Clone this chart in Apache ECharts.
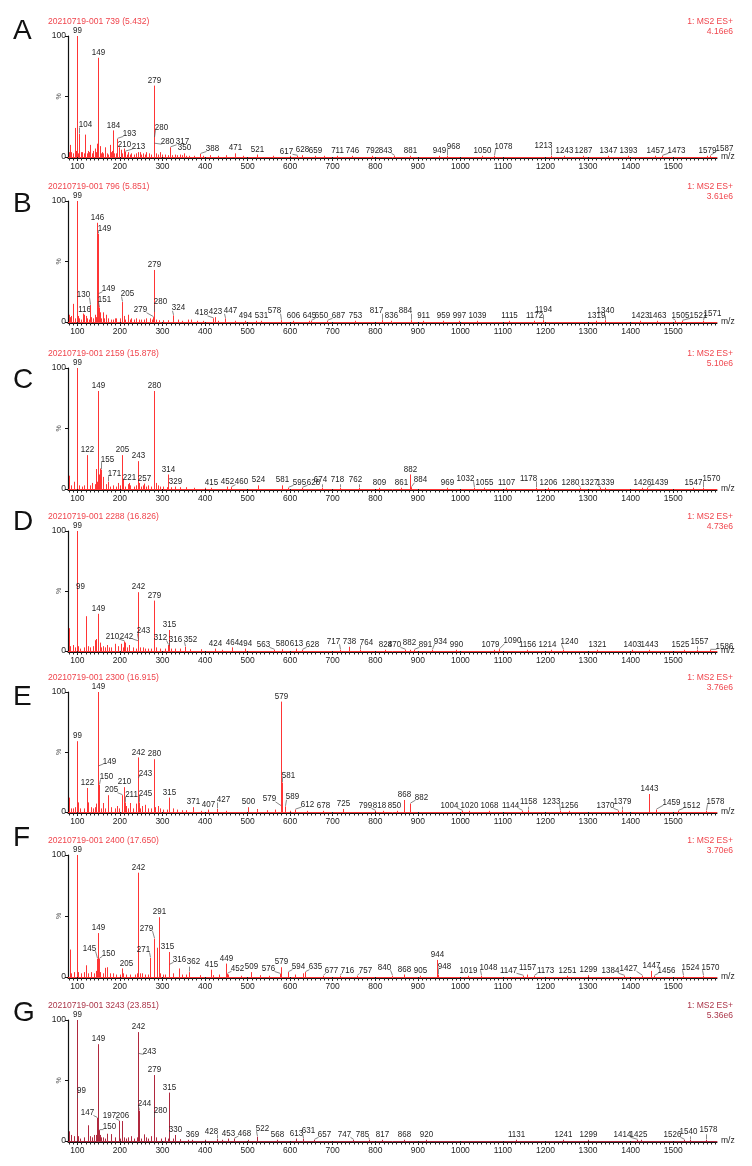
<!DOCTYPE html>
<html><head><meta charset="utf-8">
<script src="https://cdn.jsdelivr.net/npm/echarts@6/dist/echarts.min.js"></script>
<style>html,body{margin:0;padding:0;background:#fff}#c{width:752px;height:1166px}</style>
</head><body><div id="c"></div>
<script>
// ---------------- DATA ----------------
const LETTERS = ['A','B','C','D','E','F','G'];
const HEADERS = ['20210719-001 739 (5.432)','20210719-001 796 (5.851)','20210719-001 2159 (15.878)','20210719-001 2288 (16.826)','20210719-001 2300 (16.915)','20210719-001 2400 (17.650)','20210719-001 3243 (23.851)'];
const SCAN_TYPE = '1: MS2 ES+';
const BPI = ['4.16e6','3.61e6','5.10e6','4.73e6','3.76e6','3.70e6','5.36e6'];
const X_LABELS = [100,200,300,400,500,600,700,800,900,1000,1100,1200,1300,1400,1500];
const Y_LABELS = [0,50,100];

// Panel A
const A_peakMz  = [99,104,149,184,193,210,213,279,280,280.5,317,350,388,471,521,617,628,659,711,746,792,843,881,949,968,1050,1078,1213,1243,1287,1347,1393,1457,1473,1579,1587];
const A_peakPct = [100,19,82,22,15,5.5,4.5,59,16,11,8,3,2.5,3,2,1,1.5,1,1,1,1,1,1,1,1,1,1,1,1,1,1,1,1,1,1,1];
const A_peakLab = ['99','104','149','184','193','210','213','279','280','280','317','350','388','471','521','617','628','659','711','746','792','843','881','949','968','1050','1078','1213','1243','1287','1347','1393','1457','1473','1579','1587'];
const A_noiseMz  = [80,83,86,89,93.7,96,101,108,111.7,115,118.8,122,125,128,130.5,134,136.7,140.7,143,146,152.4,155,158.7,161,164,169.6,173,176,180,182,187,190,197.8,203.4,206,208.8,216,219,223,226.9,232,238.7,242,246.5,250,254,258,262,268,272,285.7,289,293.5,300,305,312,322,328.7,335,340.5,345,356,362,375,395,411,430,450,490,560,600,680];
const A_noisePct = [4,10,4,3,24,5,3,4,4,3,18.5,3,5,4,10,3,5,7,4,11,9,3,4,3,8,3,2,10,4,5,3,3,8,6,3,7,2,4,2,3,2,3,4,4,2,3,2,4,3,2,3,2,4,2,2,1.5,1.5,2,1.5,2,1.5,1,1,1,1,1.5,1,1.5,1,1,1,1];

// Panel B
const B_peakMz  = [99,116,130,146,149,149.5,151,205,278.6,279,280,324,418,423,447,494,531,578,606,645,650,687,753,817,836,884,911,959,997,1039,1115,1172,1194,1319,1340,1423,1463,1505,1521,1571];
const B_peakPct = [100,6,14,82,73,23,12,16.5,4,43,8,5.5,3,4,3,1,1,1.5,1,1,1,1,1,1.5,1,1.5,1,1,1,1,1,1,1.5,1,1.5,1,1,1,1,1];
const B_peakLab = ['99','116','130','146','149','149','151','205','279','279','280','324','418','423','447','494','531','578','606','645','650','687','753','817','836','884','911','959','997','1039','1115','1172','1194','1319','1340','1423','1463','1505','1521','1571'];
const B_noiseMz  = [80.3,83,86,89.7,94,101,104,108,113,119.5,123,127,133,136,140.7,143,152.4,156,160,163,166.5,172,178,183,187.7,191.7,199.4,208.8,213,219,224,227,232,238.7,245,250.4,256,262,270,275,285.7,292,301,312,336.5,345,360,368,380,395,430,470,520];
const B_noisePct = [6,4,5,15,3,5,3,2,7,5,3,2,4,3,6,4,8,3,8,3,6,3,2,2,3,3,3,5,2,6,2,3,2,3,2,2,2,3,3,2,2,1.5,1.5,1.5,2,1,2,2,1,1,1,1,1];

// Panel C
const C_peakMz  = [99,122,149,155,171,205,221,243,257,280,314,329,415,452,460,524,581,595,628,674,718,762,809,861,882,884,969,1032,1055,1107,1178,1206,1280,1327,1339,1426,1439,1547,1570];
const C_peakPct = [100,28,81,16,6,28,5,23,4.5,81,12,2,1,2,1.5,3,3,1,1,1,1,1,1,1,12,1.5,1,1,1,1,1,1,1,1,1,1,1,1,1];
const C_peakLab = ['99','122','149','155','171','205','221','243','257','280','314','329','415','452','460','524','581','595','628','674','718','762','809','861','882','884','969','1032','1055','1107','1178','1206','1280','1327','1339','1426','1439','1547','1570'];
const C_noiseMz  = [80.5,86,91.3,100,104,110,116,123,129,135,140.7,143,146,150,152.4,160,166.5,176,183.8,190,195.5,201,206.5,212,219,224.6,232,238,244,249,254,262,266,272,281,284,289.5,295,301,310,320,340,356,375,400];
const C_noisePct = [11,3,6,18,3,2,3,13,3,5,4,16.5,6,12,17,10,4,2,3,2,5,3,8,2,4,3,2,3,5,2,3,2,3,2,20,5,3,2,2,1.5,1.5,1.5,1.5,1,1];

// Panel D
const D_peakMz  = [99,99.6,149,210,241.5,242,243,279,312,315,316,352,424,464,494,563,580,613,628,717,738,764,824,870,882,891,934,990,1079,1090,1156,1214,1240,1321,1403,1443,1525,1557,1586];
const D_peakPct = [100,48,31,8,8,49,9,42,5,17.5,3.5,3.5,2,3,2,1,1.5,2,1,1,3.5,1,1,1,1,1,1,1,1,1.5,1,1,1,1,1,1,1,1,1];
const D_peakLab = ['99','99','149','210','242','242','243','279','312','315','316','352','424','464','494','563','580','613','628','717','738','764','824','870','882','891','934','990','1079','1090','1156','1214','1240','1321','1403','1443','1525','1557','1586'];
const D_noiseMz  = [80,83.5,89.7,94,101,106,116,121,125,130,137,140.7,144.7,152.4,156,160,164,169.6,175,180,187.7,195.5,203,207,211,216,221.7,230.6,238,246.5,254,260,266,272,281,285.7,293.5,305,320,328.7,340,365,390,440];
const D_noisePct = [19,4,5,3,4,2,3,29,4,3,4,9,10,7,3,4,3,5,3,3,6,4,6,3,7,3,5,3,2,3,3,2,2,2,8,3,2,2,2,2,2,1.5,1.5,1];

// Panel E
const E_peakMz  = [99,122,149,149.5,150,205,210,211,242,243,245,280,315,371,407,427,500,578.5,579,581,589,612,678,725,799,818,850,868,882,1004,1020,1068,1144,1158,1233,1256,1370,1379,1443,1459,1512,1578];
const E_peakPct = [59,20,100,38,22.6,14,20.7,8,45.5,28,8,44,12,4,2,2.5,4,4.7,92,24.6,4.7,2,1,2.5,1,1,1,10,7,1,1,1,1,1.5,1,1,1,1.5,15,2,1,1];
const E_peakLab = ['99','122','149','149','150','205','210','211','242','243','245','280','315','371','407','427','500','579','579','581','589','612','678','725','799','818','850','868','882','1004','1020','1068','1144','1158','1233','1256','1370','1379','1443','1459','1512','1578'];
const E_noiseMz  = [80,86,90,94,101,106,116,124,131,136,140.7,144.7,151,155,160,166,171.5,179,187.7,193,199,206,213.6,219,224.6,230.6,238.7,248,252,258,266,272,282,289.5,294.5,301,310,325,333,345,356,390,450,521,545,563.8,600,640];
const E_noisePct = [12,3,3,4,8,3,3,8,4,3,4,7,5,3,7.5,3,14,4,3,5,3,4,5,3,7.5,3,7,3,5,6,3,3,4,5,3,2,2,3,2,1.5,1.5,1,1,2.5,1.5,2,1,1];

// Panel F
const F_peakMz  = [99,145,149,150,205,242,271,279,291,315,316,362,415,449,452,509,576,579,594,635,677,716,757,840,868,905,944,948,1019,1048,1147,1157,1173,1251,1299,1384,1427,1447,1456,1524,1570];
const F_peakPct = [100,15,36,15,7,85.5,15.6,31.5,49,20.5,10,4,6,11,2.7,4,2.5,8,4,4,1,1,1,1,2,1,14,2,1,1,1,2,1,1,1.5,1,1,5,1,1,1];
const F_peakLab = ['99','145','149','150','205','242','271','279','291','315','316','362','415','449','452','509','576','579','594','635','677','716','757','840','868','905','944','948','1019','1048','1147','1157','1173','1251','1299','1384','1427','1447','1456','1524','1570'];
const F_noiseMz  = [82,86,91,101,108,116,120,125,133,139,143,151.5,154,160,166,170,176,183.8,191.7,201,207,215,223,234.7,239.5,246.5,252,260,266,281,288,293.5,301,307,325,337.7,345,356,387.5,418,433,454,485,528.8,550,610.9,630];
const F_noisePct = [22.5,3,4,4,3,4,9.6,3,4,3,5,8,4,3,7.5,8,3,3,2,2,3,2,2,2,3,3,3,2,2,15,24,3,2,2,3,7,2,2,1.5,1.5,2,2,1,1.5,1,2,3];

// Panel G
const G_peakMz  = [99,99.6,147,149,150,197,206,242,243,244,279,280,315,330,369,428,453,468,522,568,613,631,657,747,785,817,868,920,1131,1241,1299,1414,1425,1526,1540,1578];
const G_peakPct = [100,35,19,80,9,16.5,16.5,90,72,25,54.5,19,40,5,1,1.6,2,2,3.5,1,2,2,1,1,1,1,1,1,1,1,1,1,1,1,1,1];
const G_peakLab = ['99','99','147','149','150','197','206','242','243','244','279','280','315','330','369','428','453','468','522','568','613','631','657','747','785','817','868','920','1131','1241','1299','1414','1425','1526','1540','1578'];
const G_noiseMz  = [80.3,86,91,101,106,116,124,129,134,138,144,152.4,156,160,165,170,180,189,201,209,214,219,227,232,239,250,256,262,267,273,285.7,297,305,313,325,340,360,400,440,500];
const G_noisePct = [8,5,4,4,2,3,13,4,3,5,5,5,3,3,2,6,5.7,3,2,3,2,3,4,2,3,2,5.5,3,2,4,3,2,3,2,2,1.5,1,1,1,1];

// ---------------- LAYOUT / STYLE ----------------
const GRID_TOP = [36,201,368,531,692,855,1020];
const GRID_BASE = [157,322,489,651,812,977,1141];
const LETTER_Y = [31,204,380,522,697,838,1013];
const X_MIN = 78, X_MAX = 1603;
const FONT = '"Liberation Sans", Arial, sans-serif';
const TEXT_COLOR = '#1e1e1e';
const BAR_COLOR = ['#ff3535','#ff3535','#ff3535','#ff3535','#ff3535','#ff3535','#b0283e'];
const HEAD_COLOR = ['#f0454d','#f0454d','#f0454d','#f0454d','#f0454d','#f0454d','#ab3549'];
// label nudges in pixels [dx, dy], keyed by m/z
const NUDGE = {
  A:{104:[6,-4],193:[12,0],213:[13,0],280:[7,-5],280.5:[13,3],317:[12,0],388:[12,0],617:[-11,1],843:[-9,0],968:[6,-4],1078:[9,-4],1213:[-8,-5],1473:[14,0],1587:[14,-2]},
  B:{149:[6,0],130:[-7,-5],149.5:[10,0],151:[5,-3],205:[5,-3],278.6:[-13,-2],280:[6,-5],324:[5,-2],418:[-12,0],447:[5,-2],578:[-7,-4],650:[10,0],687:[11,0],817:[-6,-4],884:[-6,-4],1194:[0,-5],1340:[0,-4],1505:[5,0],1521:[16,0],1571:[9,-2]},
  C:{155:[6,-5],171:[6,-3],460:[10,0],595:[11,0],628:[11,0],674:[-2,-3],718:[-3,-3],762:[-4,-3],884:[9,-2],1032:[-9,-4],1178:[-8,-4],1280:[-10,0],1327:[-11,0],1439:[12,0],1570:[8,-4]},
  D:{99.6:[3,-2],210:[-12,0],241.5:[-12,0],243:[5,-4],312:[-8,-2],316:[6,-2],352:[5,-2],563:[-11,0],628:[10,0],717:[-7,-3],764:[6,-2],870:[-11,0],882:[-1,-2],891:[11,0],934:[8,-3],1079:[-4,0],1090:[13,-3],1214:[-4,0],1240:[6,-3],1525:[-4,0],1557:[2,-3],1586:[14,2]},
  E:{149.5:[11,0],150:[7,-3],205:[-11,0],211:[6,-3],243:[7,0],245:[6,-4],427:[6,-4],578.5:[-12,-2],581:[6,-2],589:[7,-4],612:[12,0],799:[-10,0],818:[-4,0],850:[-3,0],882:[11,-1],1004:[-13,0],1144:[-12,0],1158:[0,-3],1233:[-9,-4],1370:[-13,0],1379:[0,-3],1459:[15,-2],1512:[13,0],1578:[9,-4]},
  F:{145:[-8,-5],150:[9,0],205:[4,0],271:[-7,-3],279:[-8,-5],315:[-2,0],316:[10,0],362:[4,-5],452:[10,0],576:[-12,0],594:[10,0],635:[10,0],677:[8,0],716:[7,0],757:[8,0],840:[-8,-3],948:[6,-3],1048:[7,-3],1147:[-15,0],1157:[0,-2],1173:[11,0],1384:[-14,0],1427:[-14,-2],1456:[12,0],1524:[7,-3],1570:[7,-3]},
  G:{99.6:[4,-3],147:[-10,0],150:[10,2],197:[-10,0],243:[11,3],244:[5,-2],280:[6,-2],428:[-6,-2],468:[10,0],522:[5,-3],631:[5,-3],657:[10,0],747:[-9,0],785:[-7,0],1414:[-15,0],1425:[-3,0],1526:[-12,0],1540:[-2,-3],1578:[2,-5]}
};

const PANEL_DATA = {
  A:{pm:A_peakMz,pp:A_peakPct,pl:A_peakLab,nm:A_noiseMz,np:A_noisePct},
  B:{pm:B_peakMz,pp:B_peakPct,pl:B_peakLab,nm:B_noiseMz,np:B_noisePct},
  C:{pm:C_peakMz,pp:C_peakPct,pl:C_peakLab,nm:C_noiseMz,np:C_noisePct},
  D:{pm:D_peakMz,pp:D_peakPct,pl:D_peakLab,nm:D_noiseMz,np:D_noisePct},
  E:{pm:E_peakMz,pp:E_peakPct,pl:E_peakLab,nm:E_noiseMz,np:E_noisePct},
  F:{pm:F_peakMz,pp:F_peakPct,pl:F_peakLab,nm:F_noiseMz,np:F_noisePct},
  G:{pm:G_peakMz,pp:G_peakPct,pl:G_peakLab,nm:G_noiseMz,np:G_noisePct}
};

const MINOR_TICKS = [];
for (let v = 80; v <= 1600; v += 10) MINOR_TICKS.push(v);

function makeRender(key, labels, color) {
  const nud = NUDGE[key] || {};
  return function (params, api) {
    const mz = api.value(0), v = api.value(1);
    const p0 = api.coord([mz, 0]), p1 = api.coord([mz, v]);
    const x = Math.round(p0[0]) + 0.5;
    const children = [{type:'line', shape:{x1:x, y1:p0[1], x2:x, y2:p1[1]}, style:{stroke:color, lineWidth:1}}];
    if (labels) {
      const lab = labels[params.dataIndex];
      const nd = nud[String(mz)] || [0, 0];
      const tx = x + nd[0], ty = p1[1] - 0.5 + nd[1];
      children.push({type:'text', x:tx, y:ty, scaleX:0.84, style:{text:lab, font:'9.5px ' + FONT, fill:TEXT_COLOR, align:'center', verticalAlign:'bottom'}});
      if (Math.abs(nd[0]) >= 5 || nd[1] <= -3) {
        const hw = lab.length * 2.0;
        let ex, ey = ty - 2;
        if (nd[0] >= 5) ex = tx - hw; else if (nd[0] <= -5) ex = tx + hw; else { ex = x; ey = ty; }
        children.push({type:'line', shape:{x1:x, y1:p1[1] - 0.5, x2:ex, y2:ey}, style:{stroke:'#555', lineWidth:0.7}});
      }
    }
    return {type:'group', children};
  };
}

const grids = [], xAxes = [], yAxes = [], series = [], graphics = [];
LETTERS.forEach((key, i) => {
  const d = PANEL_DATA[key];
  const top = GRID_TOP[i], h = GRID_BASE[i] - GRID_TOP[i];
  grids.push({left:68, top:top, width:649, height:h, containLabel:false, outerBoundsMode:'none'});
  xAxes.push({
    gridIndex:i, type:'value', min:X_MIN, max:X_MAX, position:'bottom',
    axisLine:{show:true, lineStyle:{color:BAR_COLOR[i], width:1}},
    axisTick:{show:true, customValues:X_LABELS, length:4, lineStyle:{color:'#222'}},
    axisLabel:{show:true, customValues:X_LABELS, fontFamily:FONT, fontSize:8.5, color:TEXT_COLOR, margin:5,
      formatter:(v) => String(v)},
    splitLine:{show:false},
    name:'m/z', nameLocation:'end', nameGap:4,
    nameTextStyle:{fontFamily:FONT, fontSize:8.5, color:TEXT_COLOR, verticalAlign:'middle', align:'left'}
  });
  xAxes.push({
    gridIndex:i, type:'value', min:X_MIN, max:X_MAX, position:'bottom', offset:1,
    axisLine:{show:true, lineStyle:{color:'#111', width:1}},
    axisTick:{show:true, customValues:MINOR_TICKS, length:2.5, lineStyle:{color:'#222'}},
    axisLabel:{show:false}, splitLine:{show:false}
  });
  yAxes.push({
    gridIndex:i, type:'value', min:Y_LABELS[0], max:Y_LABELS[2], interval:50,
    axisLine:{show:true, lineStyle:{color:'#111', width:1.2}},
    axisTick:{show:true, length:3, lineStyle:{color:'#111'}},
    axisLabel:{show:true, fontFamily:FONT, fontSize:8.5, color:TEXT_COLOR, margin:2,
      formatter:(v) => (v === 50 ? '' : String(v))},
    splitLine:{show:false},
    name:'%', nameLocation:'middle', nameGap:5, nameRotate:90, nameMoveOverlap:false,
    nameTextStyle:{fontFamily:FONT, fontSize:7, color:'#555'}
  });
  series.push({
    type:'custom', xAxisIndex:2 * i, yAxisIndex:i, silent:true, clip:false,
    encode:{x:0, y:1},
    data:d.nm.map((m, j) => [m, d.np[j]]),
    renderItem:makeRender(key, null, BAR_COLOR[i]), z:2
  });
  series.push({
    type:'custom', xAxisIndex:2 * i, yAxisIndex:i, silent:true, clip:false,
    encode:{x:0, y:1},
    data:d.pm.map((m, j) => [m, d.pp[j]]),
    renderItem:makeRender(key, d.pl, BAR_COLOR[i]), z:3
  });
  graphics.push({type:'text', x:13, y:LETTER_Y[i], style:{text:key, font:'28px "Liberation Sans", Arial, sans-serif', fill:'#111', verticalAlign:'middle'}});
  graphics.push({type:'text', x:48, y:top - 15, scaleX:0.9, style:{text:HEADERS[i], font:'9.5px ' + FONT, fill:HEAD_COLOR[i], verticalAlign:'middle'}});
  graphics.push({type:'text', x:733, y:top - 15, scaleX:0.9, style:{text:SCAN_TYPE, font:'9.5px ' + FONT, fill:HEAD_COLOR[i], align:'right', verticalAlign:'middle'}});
  graphics.push({type:'text', x:733, y:top - 5, scaleX:0.9, style:{text:BPI[i], font:'9.5px ' + FONT, fill:HEAD_COLOR[i], align:'right', verticalAlign:'middle'}});
});

const chart = echarts.init(document.getElementById('c'), null, {renderer:'canvas'});
chart.setOption({
  backgroundColor:'#ffffff',
  animation:false,
  grid:grids, xAxis:xAxes, yAxis:yAxes, series:series,
  graphic:{elements:graphics}
});
</script></body></html>
